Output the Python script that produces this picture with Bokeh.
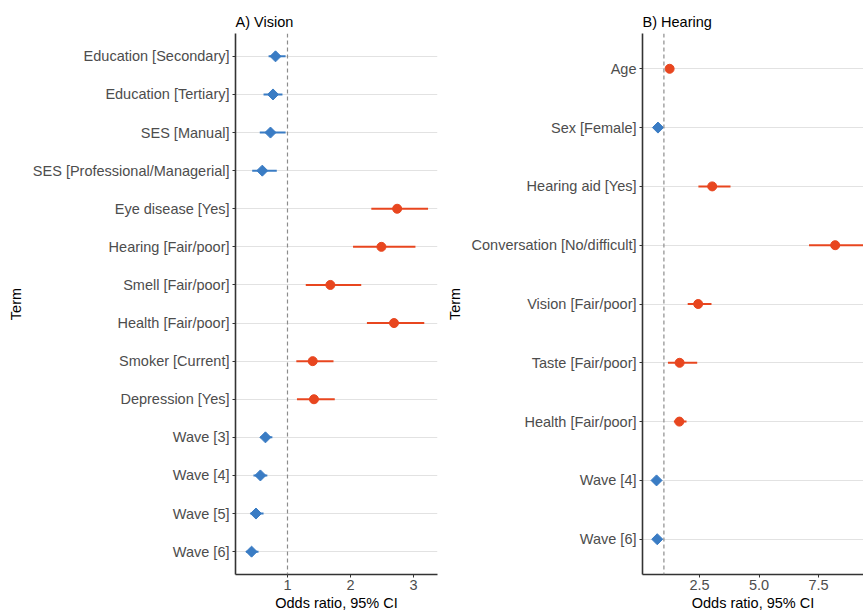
import math
from bokeh.plotting import figure
from bokeh.layouts import row
from bokeh.models import Range1d, FixedTicker, Span
from bokeh.embed import file_html
from bokeh.resources import INLINE

# ---------------- data ----------------
vision_terms = ["Education [Secondary]", "Education [Tertiary]", "SES [Manual]",
                "SES [Professional/Managerial]", "Eye disease [Yes]", "Hearing [Fair/poor]",
                "Smell [Fair/poor]", "Health [Fair/poor]", "Smoker [Current]",
                "Depression [Yes]", "Wave [3]", "Wave [4]", "Wave [5]", "Wave [6]"]
vision_or = [0.81, 0.77, 0.73, 0.60, 2.74, 2.49, 1.68, 2.69, 1.40, 1.42, 0.65, 0.57, 0.50, 0.43]
vision_lo = [0.70, 0.62, 0.56, 0.44, 2.33, 2.04, 1.29, 2.26, 1.14, 1.15, 0.57, 0.46, 0.41, 0.34]
vision_hi = [0.97, 0.92, 0.97, 0.83, 3.23, 3.03, 2.17, 3.17, 1.73, 1.75, 0.76, 0.68, 0.62, 0.54]

hearing_terms = ["Age", "Sex [Female]", "Hearing aid [Yes]", "Conversation [No/difficult]",
                 "Vision [Fair/poor]", "Taste [Fair/poor]", "Health [Fair/poor]",
                 "Wave [4]", "Wave [6]"]
hearing_or = [1.24, 0.75, 3.03, 8.20, 2.44, 1.66, 1.65, 0.69, 0.72]
hearing_lo = [1.20, 0.70, 2.45, 7.10, 2.00, 1.17, 1.42, 0.62, 0.65]
hearing_hi = [1.28, 0.80, 3.80, 9.60, 3.00, 2.40, 1.95, 0.76, 0.80]

vision_xticks = [1, 2, 3]
hearing_xticks = [2.5, 5.0, 7.5]
hearing_xtick_labels = ["2.5", "5.0", "7.5"]
null_or = 1

BLUE = "#3A7CC4"
RED = "#E8461F"
FONT = "Liberation Sans"
FS = "14.5px"
HEIGHT = 614


def make_panel(title, terms, ors, los, his, xrange, xticks, xlabels, width, border_left, border_right):
    n = len(terms)
    pos = list(range(1, n + 1))
    p = figure(width=width, height=HEIGHT, output_backend="svg", toolbar_location=None,
               x_range=Range1d(*xrange), y_range=Range1d(n + 0.6, 0.4),
               min_border_left=border_left, min_border_right=border_right,
               min_border_top=33, min_border_bottom=40)
    p.title.text = title
    p.title.text_font = FONT
    p.title.text_font_size = FS
    p.title.text_font_style = "normal"
    p.title.text_color = "black"
    p.title.align = "left"
    p.title.standoff = 7
    p.outline_line_color = None
    p.background_fill_color = "white"
    p.border_fill_color = "white"

    p.xgrid.grid_line_color = None
    p.ygrid.grid_line_color = "#E2E2E2"
    p.ygrid.grid_line_width = 1.2
    p.ygrid.ticker = FixedTicker(ticks=pos)

    p.yaxis.ticker = FixedTicker(ticks=pos)
    p.yaxis.major_label_overrides = {i: t for i, t in zip(pos, terms)}
    p.xaxis.ticker = FixedTicker(ticks=xticks)
    p.xaxis.major_label_overrides = {v: l for v, l in zip(xticks, xlabels)}
    for ax in (p.xaxis, p.yaxis):
        ax.axis_line_color = "#333333"
        ax.axis_line_width = 1.6
        ax.major_tick_line_color = "#333333"
        ax.major_tick_out = 3
        ax.major_tick_in = 0
        ax.minor_tick_line_color = None
        ax.major_label_text_font = FONT
        ax.major_label_text_font_size = FS
        ax.major_label_text_color = "#4D4D4D"
        ax.axis_label_text_font = FONT
        ax.axis_label_text_font_size = FS
        ax.axis_label_text_font_style = "normal"
        ax.axis_label_text_color = "black"
    p.xaxis.axis_label = "Odds ratio, 95% CI"
    p.yaxis.axis_label = "Term"
    p.xaxis.major_label_standoff = 2
    p.xaxis.axis_label_standoff = 2
    p.yaxis.major_label_standoff = 3
    p.yaxis.axis_label_standoff = 6

    p.add_layout(Span(location=null_or, dimension="height", line_color="#8C8C8C",
                      line_dash="4 3", line_width=1.2))

    lo_idx = [i for i, v in enumerate(ors) if v < 1]
    hi_idx = [i for i, v in enumerate(ors) if v >= 1]
    for idx, col in ((lo_idx, BLUE), (hi_idx, RED)):
        p.segment(x0=[los[i] for i in idx], x1=[his[i] for i in idx],
                  y0=[pos[i] for i in idx], y1=[pos[i] for i in idx],
                  line_color=col, line_width=2)
    p.scatter(x=[ors[i] for i in lo_idx], y=[pos[i] for i in lo_idx], marker="square",
              angle=math.pi / 4, size=7.8, fill_color=BLUE, line_color=BLUE)
    p.scatter(x=[ors[i] for i in hi_idx], y=[pos[i] for i in hi_idx], marker="circle",
              size=9, fill_color=RED, line_color=RED)
    return p


left = make_panel("A) Vision", vision_terms, vision_or, vision_lo, vision_hi,
                  (0.175, 3.38), vision_xticks, [str(v) for v in vision_xticks],
                  440, 235, 3)
right = make_panel("B) Hearing", hearing_terms, hearing_or, hearing_lo, hearing_hi,
                   (0.1, 9.39), hearing_xticks, hearing_xtick_labels,
                   423, 202, 0)

layout = row(left, right)
open("out.html", "w").write(file_html(layout, INLINE))
